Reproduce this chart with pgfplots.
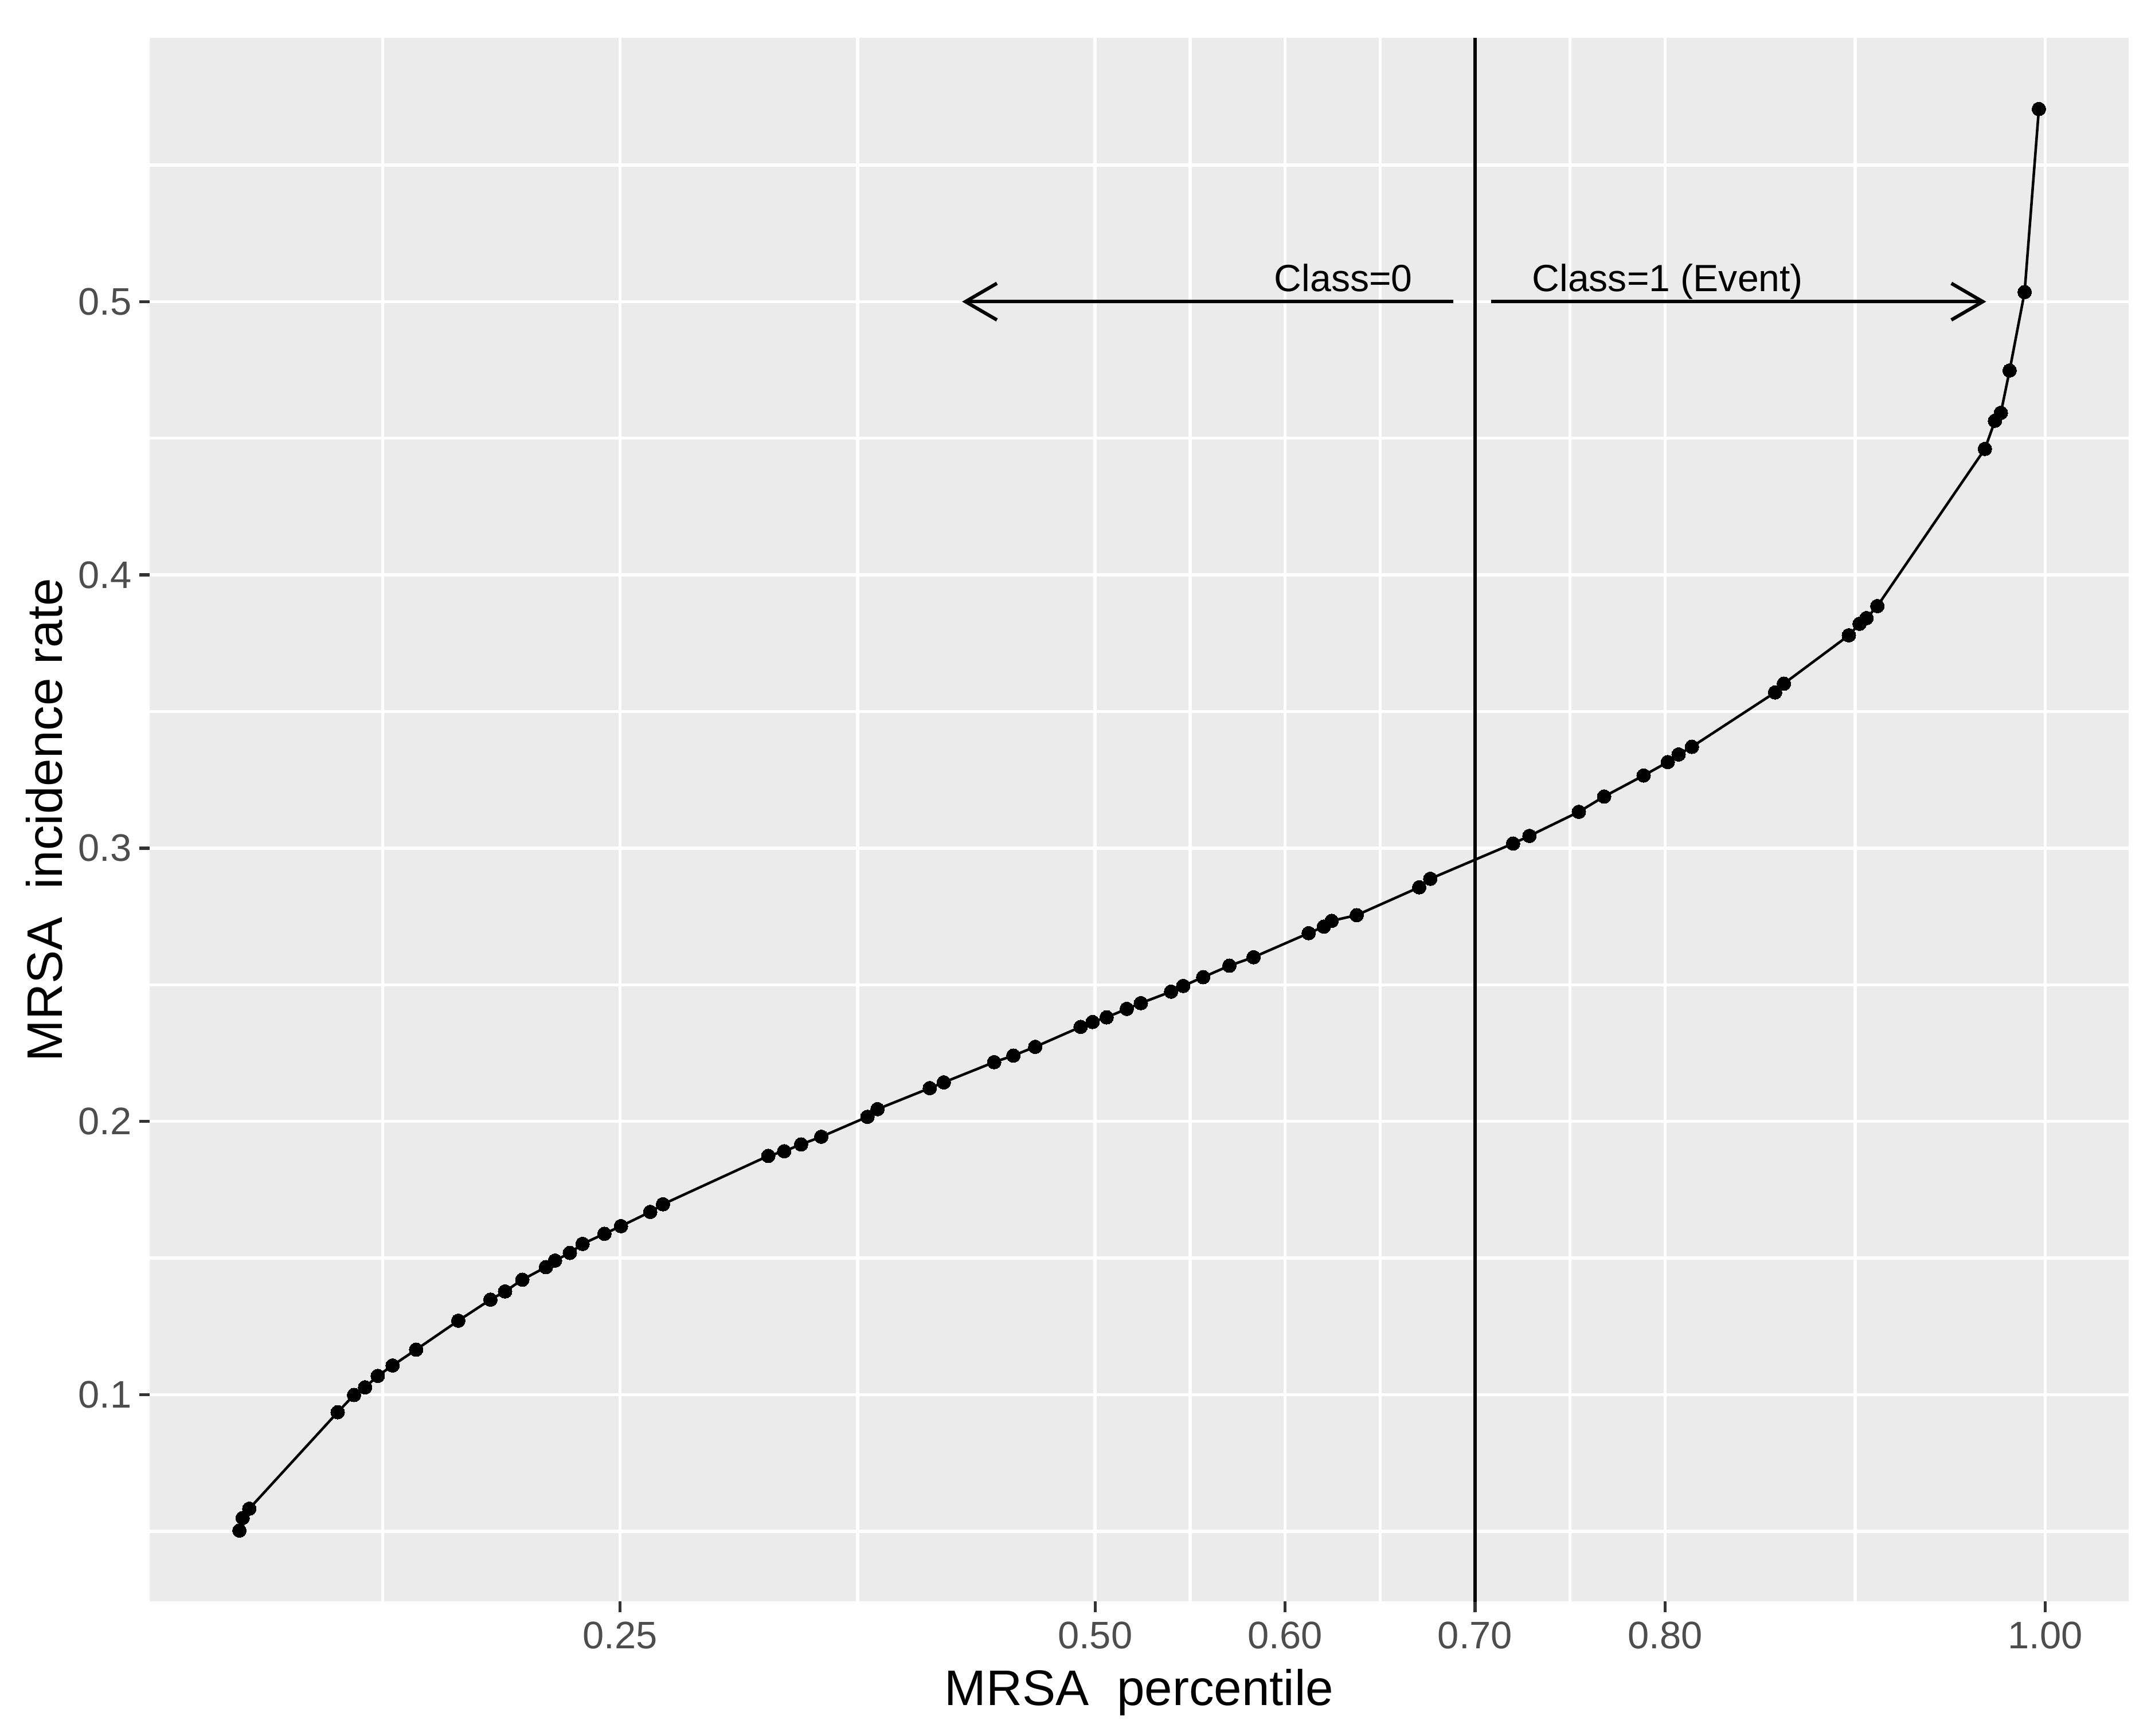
\documentclass[border=0pt]{standalone}
\usepackage{fontspec}
\setmainfont{Liberation Sans}
\usepackage{pgfplots}
\usepackage{pgfplotstable}
\pgfplotsset{compat=1.18}
\usetikzlibrary{arrows.meta}
\definecolor{ggpanel}{HTML}{EBEBEB}
\definecolor{ggticktext}{HTML}{4D4D4D}
\definecolor{ggtickmark}{HTML}{333333}

% MRSA percentile vs incidence rate
\pgfplotstableread{
x y
0.0497 0.0503
0.0514 0.0549
0.0549 0.0583
0.1014 0.0936
0.1100 0.0999
0.1158 0.1027
0.1225 0.1069
0.1303 0.1107
0.1427 0.1165
0.1649 0.1271
0.1818 0.1348
0.1895 0.1378
0.1986 0.1421
0.2110 0.1467
0.2158 0.1491
0.2236 0.1519
0.2303 0.1552
0.2418 0.1589
0.2505 0.1617
0.2659 0.1669
0.2726 0.1697
0.3280 0.1874
0.3364 0.1891
0.3453 0.1916
0.3559 0.1944
0.3802 0.2017
0.3855 0.2045
0.4130 0.2122
0.4204 0.2143
0.4469 0.2217
0.4570 0.2241
0.4685 0.2273
0.4924 0.2346
0.4987 0.2364
0.5061 0.2381
0.5167 0.2412
0.5241 0.2433
0.5400 0.2475
0.5464 0.2496
0.5569 0.2528
0.5707 0.2570
0.5834 0.2601
0.6124 0.2689
0.6204 0.2713
0.6245 0.2734
0.6377 0.2755
0.6706 0.2857
0.6764 0.2888
0.7200 0.3017
0.7286 0.3045
0.7546 0.3133
0.7679 0.3189
0.7887 0.3266
0.8014 0.3315
0.8071 0.3343
0.8141 0.3371
0.8579 0.3570
0.8625 0.3602
0.8967 0.3779
0.9023 0.3821
0.9060 0.3842
0.9117 0.3886
0.9683 0.4461
0.9736 0.4564
0.9767 0.4593
0.9813 0.4748
0.9892 0.5035
0.9967 0.5705
}\mrsa

\begin{document}
\begin{tikzpicture}
\path[use as bounding box] (-34.7pt,-31.1pt) rectangle (465.3pt,371.7pt);
\begin{axis}[
  at={(0,0)}, anchor=south west,
  scale only axis, width=459.2pt, height=362.9pt,
  xmin=0.0024, xmax=1.044, ymin=0.0243, ymax=0.5965,
  axis background/.style={fill=ggpanel},
  axis line style={draw=none},
  xtick={0.25,0.5,0.6,0.7,0.8,1.0},
  xticklabels={0.25,0.50,0.60,0.70,0.80,1.00},
  minor xtick={0.125,0.375,0.55,0.65,0.75,0.9},
  ytick={0.1,0.2,0.3,0.4,0.5},
  yticklabels={0.1,0.2,0.3,0.4,0.5},
  minor ytick={0.05,0.15,0.25,0.35,0.45,0.55},
  grid=both,
  major grid style={white, line width=0.72pt},
  minor grid style={white, line width=0.72pt},
  tick align=outside, tick pos=left,
  major tick length=2.4pt, minor tick length=0pt,
  tick style={ggtickmark, line width=0.7pt},
  tick label style={font=\fontsize{8.9}{10}\selectfont, text=ggticktext, inner sep=0pt},
  xticklabel style={yshift=-2.1pt},
  yticklabel style={xshift=-1.6pt},
  xlabel={MRSA\ \ percentile},
  ylabel={MRSA\ \ incidence rate},
  label style={font=\fontsize{11.6}{13}\selectfont},
  xlabel style={at={(axis description cs:0.5,-0.0664)}, anchor=base},
  ylabel style={at={(axis description cs:-0.0442,0.5)}, anchor=base},
]
\addplot[black, line width=0.6pt, mark=*, mark size=1.6pt,
  mark options={solid, fill=black, line width=0pt}] table {\mrsa};
\addplot[black, line width=0.9pt] coordinates {(0.7,0) (0.7,0.7)};
\addplot[black, line width=0.8pt, -{Straight Barb[length=7.3pt, width=8.5pt]}]
  coordinates {(0.6886,0.5) (0.43,0.5)};
\addplot[black, line width=0.8pt, -{Straight Barb[length=7.3pt, width=8.5pt]}]
  coordinates {(0.7084,0.5) (0.969,0.5)};
\node[anchor=base east, inner sep=0pt, font=\fontsize{8.8}{10}\selectfont]
  at (axis cs:0.6675,0.5038) {Class=0};
\node[anchor=base west, inner sep=0pt, font=\fontsize{8.8}{10}\selectfont]
  at (axis cs:0.7296,0.5038) {Class=1 (Event)};
\end{axis}
\end{tikzpicture}
\end{document}
